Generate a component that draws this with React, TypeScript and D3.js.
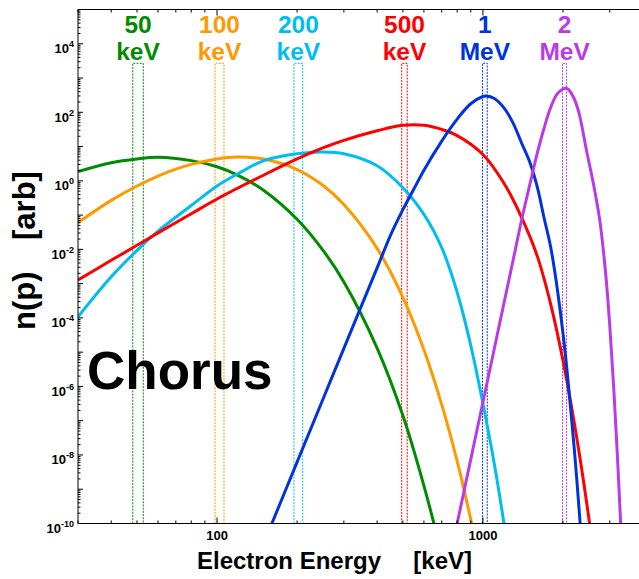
import React from 'react';
import * as d3 from 'd3';

// Canvas and plot frame
const W = 639;
const H = 579;
const plotLeft = 78;
const plotRight = 643;
const plotTop = 9.5;
const plotBottom = 523.5;

const energyDomain: [number, number] = [30, 4000];
const densityDomain: [number, number] = [1e-10, 1e5];

// Distribution curves: energy (keV) and log10 n(p)
const greenE = [30, 40, 50, 60, 80, 100, 120, 150, 200, 250, 300, 400, 500, 600, 700];
const greenLogN = [0.27, 0.53, 0.64, 0.686, 0.59, 0.41, 0.16, -0.28, -1.12, -2.02, -2.95, -4.88, -6.85, -8.9, -10.9];

const orangeE = [30, 40, 50, 60, 70, 80, 100, 120, 150, 200, 250, 300, 400, 500, 600, 700, 800, 900, 1000];
const orangeLogN = [-1.22, -0.57, -0.15, 0.14, 0.34, 0.48, 0.64, 0.694, 0.635, 0.33, -0.13, -0.69, -1.97, -3.4, -4.93, -6.53, -8.18, -9.88, -11.6];

const cyanE = [30, 40, 50, 60, 80, 100, 120, 150, 200, 250, 300, 400, 500, 600, 700, 800, 900, 1000, 1100, 1200, 1300];
const cyanLogN = [-3.97, -2.8, -2.03, -1.47, -0.72, -0.15, 0.21, 0.59, 0.79, 0.84, 0.79, 0.44, -0.2, -0.98, -1.95, -3.25, -4.8, -6.5, -8.2, -10.0, -11.9];

const redE = [30, 40, 50, 60, 80, 100, 150, 200, 250, 300, 400, 500, 600, 700, 800, 1000, 1200, 1400, 1600, 1800, 2000, 2200, 2400, 2600];
const redLogN = [-2.895, -2.32, -1.88, -1.52, -0.96, -0.53, 0.17, 0.64, 0.96, 1.18, 1.46, 1.62, 1.62, 1.5, 1.32, 0.77, -0.07, -1.08, -2.19, -3.61, -5.24, -7.01, -8.86, -10.77];

const blueE = [150, 200, 250, 300, 400, 450, 500, 550, 600, 700, 800, 900, 1000, 1030, 1100, 1200, 1300, 1400, 1500, 1600, 1700, 1800, 2000, 2200, 2300, 2400];
const blueLogN = [-10.57, -8.21, -6.38, -4.89, -2.54, -1.575, -0.84, -0.24, 0.31, 1.16, 1.8, 2.25, 2.46, 2.474, 2.41, 2.13, 1.678, 1.09, 0.55, -0.17, -1.1, -1.95, -4.44, -7.72, -9.59, -11.57];

const purpleE = [750, 800, 900, 1000, 1100, 1200, 1300, 1400, 1500, 1600, 1700, 1800, 1900, 2000, 2050, 2100, 2200, 2300, 2450, 2600, 2750, 2900, 3000, 3100, 3200, 3300, 3400];
const purpleLogN = [-11.02, -10, -8.13, -6.46, -4.95, -3.57, -2.3, -1.12, -0.12, 0.8, 1.55, 2.15, 2.53, 2.68, 2.7, 2.665, 2.41, 1.97, 0.9, -0.06, -1.14, -2.77, -4.23, -5.96, -7.92, -10.08, -12.3];

// Energy markers at the top
const markerValue = ['50', '100', '200', '500', '1', '2'];
const markerUnit = ['keV', 'keV', 'keV', 'keV', 'MeV', 'MeV'];
const markerLow = [48.2, 98.3, 194.7, 495, 997, 1993];
const markerHigh = [52.8, 106.2, 210, 519, 1038, 2064];
const markerTopN = 2.7e3;

const palette = ['#008C00', '#FF9900', '#00BDEF', '#FF0000', '#0033DD', '#BA3BE6'];

const xTickLabels = [100, 1000];
const yTickExponents = [4, 2, 0, -2, -4, -6, -8, -10];

const FONT = 'Liberation Sans, Arial, Helvetica, sans-serif';

export default function App() {
  const x = d3.scaleLog().domain(energyDomain).range([plotLeft, plotRight]);
  const y = d3.scaleLog().domain(densityDomain).range([plotBottom, plotTop]);

  const series = [
    { e: greenE, l: greenLogN },
    { e: orangeE, l: orangeLogN },
    { e: cyanE, l: cyanLogN },
    { e: redE, l: redLogN },
    { e: blueE, l: blueLogN },
    { e: purpleE, l: purpleLogN },
  ];

  const line = d3
    .line<[number, number]>()
    .x((d) => x(d[0]))
    .y((d) => y(Math.pow(10, d[1])))
    .curve(d3.curveCatmullRom.alpha(0.5));

  // minor ticks along the energy axis
  const xMinor: number[] = [];
  for (const dec of [10, 100, 1000]) {
    for (let m = 1; m <= 9; m++) {
      const v = dec * m;
      if (v >= energyDomain[0] && v <= energyDomain[1] && !xTickLabels.includes(v)) xMinor.push(v);
    }
  }
  const yMinor: number[] = [];
  const yDecades: number[] = [];
  for (let k = -10; k <= 5; k++) {
    yDecades.push(Math.pow(10, k));
    if (k < 5) for (let m = 2; m <= 9; m++) yMinor.push(m * Math.pow(10, k));
  }

  return (
    <svg
      width={W}
      height={H}
      style={{ position: 'absolute', left: 0, top: 0, background: '#fff' }}
      fontFamily={FONT}
    >
      <defs>
        <clipPath id="plotArea">
          <rect x={plotLeft} y={plotTop} width={plotRight - plotLeft} height={plotBottom - plotTop} />
        </clipPath>
      </defs>

      {/* energy marker boxes */}
      <g clipPath="url(#plotArea)">
        {markerLow.map((lo, i) => {
          const x0 = x(lo);
          const x1 = x(markerHigh[i]);
          const yt = y(markerTopN);
          return (
            <path
              key={`box${i}`}
              d={`M${x0},${plotBottom} L${x0},${yt} L${x1},${yt} L${x1},${plotBottom}`}
              fill="none"
              stroke={palette[i]}
              strokeWidth={1}
              strokeDasharray="2,1.2"
            />
          );
        })}
      </g>

      {/* distribution curves */}
      <g clipPath="url(#plotArea)">
        {series.map((s, i) => (
          <path
            key={`curve${i}`}
            d={line(s.e.map((e, j) => [e, s.l[j]] as [number, number])) || ''}
            fill="none"
            stroke={palette[i]}
            strokeWidth={3}
            strokeLinejoin="round"
          />
        ))}
      </g>

      {/* frame */}
      <path
        d={`M${plotRight},${plotTop} L${plotLeft},${plotTop} L${plotLeft},${plotBottom} L${plotRight},${plotBottom}`}
        fill="none"
        stroke="#000"
        strokeWidth={1}
      />

      {/* x ticks, bottom and top */}
      {xMinor.map((v) => (
        <g key={`xm${v}`}>
          <line x1={x(v)} x2={x(v)} y1={plotBottom} y2={plotBottom - 3} stroke="#000" />
          <line x1={x(v)} x2={x(v)} y1={plotTop} y2={plotTop + 3} stroke="#000" />
        </g>
      ))}
      {xTickLabels.map((v) => (
        <g key={`xM${v}`}>
          <line x1={x(v)} x2={x(v)} y1={plotBottom} y2={plotBottom - 6} stroke="#000" />
          <line x1={x(v)} x2={x(v)} y1={plotTop} y2={plotTop + 6} stroke="#000" />
          <text x={x(v)} y={540} textAnchor="middle" fontSize={13} fontWeight="bold">
            {v}
          </text>
        </g>
      ))}

      {/* y ticks */}
      {yMinor.map((v, i) => (
        <line key={`ym${i}`} x1={plotLeft} x2={plotLeft + 2.5} y1={y(v)} y2={y(v)} stroke="#000" />
      ))}
      {yDecades.map((v, i) => (
        <line key={`yd${i}`} x1={plotLeft} x2={plotLeft + 5} y1={y(v)} y2={y(v)} stroke="#000" />
      ))}
      {yTickExponents.map((k) => (
        <text key={`yl${k}`} x={plotLeft - 4} y={y(Math.pow(10, k)) + 9.5} textAnchor="end" fontSize={13} fontWeight="bold">
          10
          <tspan fontSize={9} dy={-6}>
            {k}
          </tspan>
        </text>
      ))}

      {/* top energy labels */}
      {markerValue.map((v, i) => {
        const cx = x(Math.sqrt(markerLow[i] * markerHigh[i]));
        return (
          <g key={`ml${i}`} fill={palette[i]} fontWeight="bold" fontSize={24.5} textAnchor="middle">
            <text x={cx} y={33}>{v}</text>
            <text x={cx} y={60}>{markerUnit[i]}</text>
          </g>
        );
      })}

      {/* titles */}
      <text x={87} y={389} fontSize={53} fontWeight="bold">
        Chorus
      </text>
      <text x={197} y={569} fontSize={24} fontWeight="bold">
        Electron Energy
      </text>
      <text x={472} y={569} fontSize={24} fontWeight="bold" textAnchor="end">
        [keV]
      </text>
      <text transform="translate(35,330) rotate(-90)" fontSize={31} fontWeight="bold">
        n(p)
      </text>
      <text transform="translate(35,240) rotate(-90)" fontSize={31} fontWeight="bold">
        [arb]
      </text>
    </svg>
  );
}
